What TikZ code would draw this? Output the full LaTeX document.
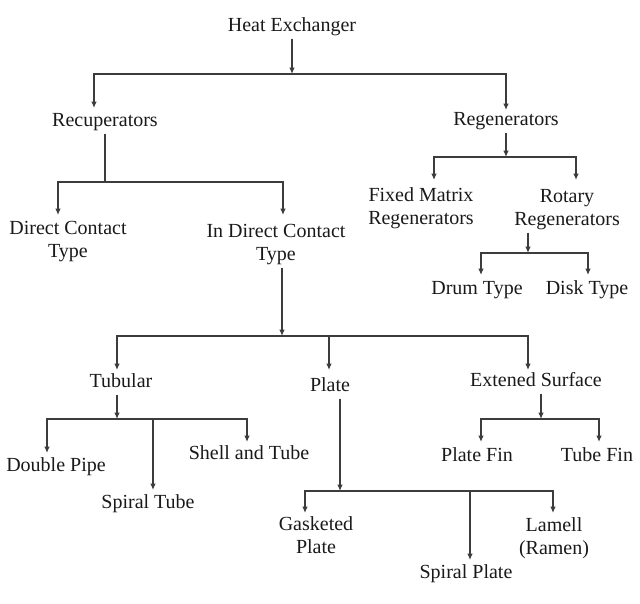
\documentclass[tikz,border=0pt]{standalone}
\usepackage[RGB]{xcolor}
\usepackage{fontspec}
\setmainfont{Liberation Serif}
\usepackage{tikz}
\usetikzlibrary{arrows.meta}
\definecolor{ink}{RGB}{25,25,25}
\definecolor{wire}{RGB}{60,60,60}
\tikzset{
  lbl/.style={font=\fontsize{10}{11.5}\selectfont, text=ink, inner sep=1pt, text height=7pt, text depth=2.2pt},
  lbltwo/.style={font=\fontsize{10}{11.5}\selectfont, text=ink, inner sep=1pt, align=center},
  conn/.style={draw=wire, line width=0.8pt},
  arrowed/.style={-{Latex[length=3.2pt,width=2.8pt]}}
}
\newcommand{\branch}[2]{
    \foreach \kid in {#2}{
    \draw[conn,arrowed] (#1) -| (\kid);
    }
}

\begin{document}
\begin{tikzpicture}[x=0.5pt,y=-0.5pt]
\useasboundingbox (0,0) rectangle (640,603);
% labels
\node[lbl] (heat) at (292,27) {Heat Exchanger};
\node[lbl] (recu) at (105,122) {Recuperators};
\node[lbl] (regen) at (506,121) {Regenerators};
\node[lbltwo] (dct) at (68,242) {Direct Contact\\Type};
\node[lbltwo] (idct) at (276,245) {In Direct Contact\\Type};
\node[lbltwo] (fixed) at (421,208) {Fixed Matrix\\Regenerators};
\node[lbltwo] (rotary) at (567,210) {Rotary\\Regenerators};
\node[lbl] (drum) at (477,290) {Drum Type};
\node[lbl] (disk) at (587,290) {Disk Type};
\node[lbl] (tub) at (121,383) {Tubular};
\node[lbl] (plate) at (330,387) {Plate};
\node[lbl] (ext) at (536,382) {Extened Surface};
\node[lbl] (dpipe) at (56,467) {Double Pipe};
\node[lbl] (stube) at (148,504) {Spiral Tube};
\node[lbl] (shell) at (249,455) {Shell and Tube};
\node[lbl] (pfin) at (477,457) {Plate Fin};
\node[lbl] (tfin) at (597,457) {Tube Fin};
\node[lbltwo] (gask) at (316,535) {Gasketed\\Plate};
\node[lbl] (splate) at (466,574) {Spiral Plate};
\node[lbltwo] (lamell) at (554,538) {Lamell\\(Ramen)};
% junctions on the bars
\coordinate (heatj) at (292,74);
\coordinate (recuj) at (105,182);
\coordinate (regenj) at (506,157);
\coordinate (rotaryj) at (528,253);
\coordinate (idctj) at (282,336);
\coordinate (tubj) at (117,419);
\coordinate (platej) at (340,491);
\coordinate (extj) at (541,419);
% arrow tips
\coordinate (recut) at (94,108);
\coordinate (regent) at (506,110);
\coordinate (dctt) at (58,215);
\coordinate (idctt) at (283,215);
\coordinate (fixedt) at (434,180);
\coordinate (rotaryt) at (576,180);
\coordinate (drumt) at (481,275);
\coordinate (diskt) at (588,275);
\coordinate (tubt) at (117,370);
\coordinate (platet) at (329,370);
\coordinate (extt) at (528,370);
\coordinate (dpipet) at (47,453);
\coordinate (stubet) at (153,490);
\coordinate (shellt) at (247,442);
\coordinate (gaskt) at (305,513);
\coordinate (splatet) at (470,560);
\coordinate (lamellt) at (553,513);
\coordinate (pfint) at (481,442);
\coordinate (tfint) at (599,442);
% connectors
\draw[conn,arrowed] (heat) -- (heatj);
\branch{heatj}{recut,regent}
\draw[conn] (recu) -- (recuj);
\branch{recuj}{dctt,idctt}
\draw[conn,arrowed] (regen) -- (regenj);
\branch{regenj}{fixedt,rotaryt}
\draw[conn,arrowed] (rotary.south -| rotaryj) -- (rotaryj);
\branch{rotaryj}{drumt,diskt}
\draw[conn,arrowed] (idct.south -| idctj) -- (idctj);
\branch{idctj}{tubt,platet,extt}
\draw[conn,arrowed] (tub.south -| tubj) -- (tubj);
\branch{tubj}{dpipet,stubet,shellt}
\draw[conn,arrowed] (plate.south -| platej) -- (platej);
\branch{platej}{gaskt,splatet,lamellt}
\draw[conn,arrowed] (ext.south -| extj) -- (extj);
\branch{extj}{pfint,tfint}
\end{tikzpicture}
\end{document}
